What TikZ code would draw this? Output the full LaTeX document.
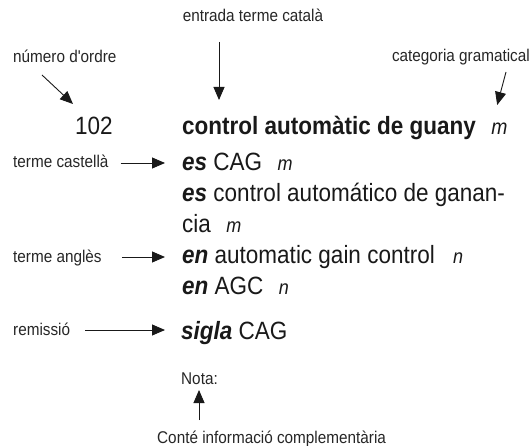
\documentclass[tikz,border=0pt]{standalone}
\usepackage{fontspec}
\setmainfont{Liberation Sans}
\newfontfamily\narrow[FakeStretch=0.9]{Liberation Sans}
\usetikzlibrary{arrows.meta}
\begin{document}
\begin{tikzpicture}[x=1pt,y=-1pt,
  lbl/.style={inner sep=0pt,anchor=base west,text height=10pt,text depth=0pt,
    font=\narrow\fontsize{17}{20}\selectfont,text=black!85},
  entry/.style={inner sep=0pt,anchor=base west,font=\narrow\fontsize{25}{30}\selectfont,text=black!90},
  gram/.style={inner sep=0pt,anchor=base west,font=\narrow\fontsize{20}{24}\selectfont\itshape,text=black!90},
  pointer/.style={-{Triangle[length=13pt,width=11pt]},line width=0.9pt,black!90}]
\useasboundingbox (0,0) rectangle (532,446);

%labels round the entry
\node[lbl,anchor=base] (entrada) at (253,22) {entrada terme català};
\node[lbl] (ordre) at (13,63) {número d'ordre};
\node[lbl,anchor=base east] (categ) at (530,62) {categoria gramatical};
\node[lbl] (cast) at (13,168) {terme castellà};
\node[lbl] (angl) at (13,262) {terme anglès};
\node[lbl] (remis) at (13,335) {remissió};
\node[lbl] (nota) at (181,384) {Nota:};
\node[lbl] (conte) at (157,443) {Conté informació complementària};

%the entry itself
\node[entry] (num) at (75,135) {102};
\node[entry,font=\narrow\fontsize{25}{30}\selectfont\bfseries] (cat) at (182,135) {control automàtic de guany};
\node[gram,font=\narrow\fontsize{21.5}{25}\selectfont\itshape] (catm) at ([xshift=15pt]cat.base east) {m};
\node[entry] (es1) at (182,171) {\textbf{\textit{es}} CAG};
\node[gram] (es1m) at ([xshift=15pt]es1.base east) {m};
\node[entry] (es2) at (182,202) {\textbf{\textit{es}} control automático de ganan-};
\node[entry] (es2b) at (182,233) {cia};
\node[gram] (es2m) at ([xshift=15pt]es2b.base east) {m};
\node[entry] (en1) at (182,263) {\textbf{\textit{en}} automatic gain control};
\node[gram] (en1n) at ([xshift=18pt]en1.base east) {n};
\node[entry] (en2) at (182,294) {\textbf{\textit{en}} AGC};
\node[gram] (en2n) at ([xshift=15pt]en2.base east) {n};
\node[entry] (sigla) at (181,339) {\textbf{\textit{sigla}} CAG};

%pointers
\draw[pointer] ([shift={(-34,20)}]entrada.base) -- ([shift={(37,-35)}]cat.base west);
\draw[pointer] ([shift={(29,12)}]ordre.base west) -- ([shift={(-2,-31)}]num.base west);
\draw[pointer] ([shift={(-24,10)}]categ.base east) -- ([shift={(6,-30)}]catm.base west);
\draw[pointer] ([xshift=12pt]cast.east) -- ([xshift=-17pt]cast.east -| es1.west);
\draw[pointer] ([xshift=20pt]angl.east) -- ([xshift=-17pt]angl.east -| en1.west);
\draw[pointer] ([xshift=15pt]remis.east) -- ([xshift=-16pt]remis.east -| sigla.west);
\draw[pointer] ([shift={(42,-23)}]conte.base west) -- ([shift={(18,6)}]nota.base west);
\end{tikzpicture}
\end{document}
